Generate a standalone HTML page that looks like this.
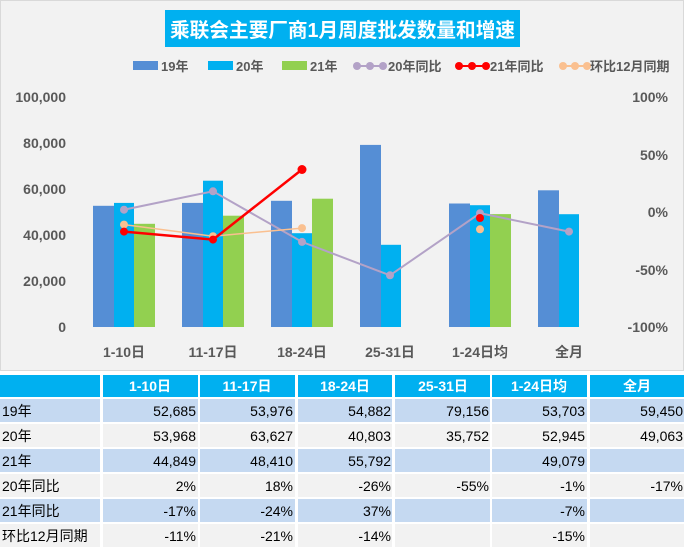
<!DOCTYPE html>
<html><head><meta charset="utf-8"><style>
body{margin:0;width:684px;height:549px;overflow:hidden;background:#fff}
svg{display:block}
text{font-family:"Liberation Sans","Noto Sans CJK SC",sans-serif}
</style></head><body>
<svg width="684" height="549" viewBox="0 0 684 549">
<rect x="0.5" y="0.5" width="683" height="370" fill="#f2f2f2" stroke="#d9d9d9"/>
<rect x="165" y="10" width="355" height="37" fill="#00b0f0"/>
<text x="170" y="37" textLength="345" lengthAdjust="spacingAndGlyphs" font-size="20" font-weight="bold" fill="#fff">乘联会主要厂商1月周度批发数量和增速</text>
<!-- legend -->
<g font-size="13" font-weight="bold" fill="#595959">
<rect x="133" y="61" width="25" height="9" fill="#558ed5"/><text x="161" y="71">19年</text>
<rect x="208" y="61" width="25" height="9" fill="#00b0f0"/><text x="236" y="71">20年</text>
<rect x="282" y="61" width="25" height="9" fill="#92d050"/><text x="310" y="71">21年</text>
<line x1="355" y1="66" x2="384" y2="66" stroke="#b3a2c7" stroke-width="2"/><circle cx="357" cy="66" r="4" fill="#b3a2c7"/><circle cx="370" cy="66" r="4" fill="#b3a2c7"/><circle cx="383" cy="66" r="4" fill="#b3a2c7"/><text x="388" y="71">20年同比</text>
<line x1="457" y1="66" x2="487" y2="66" stroke="#ff0000" stroke-width="2"/><circle cx="459" cy="66" r="4" fill="#ff0000"/><circle cx="472" cy="66" r="4" fill="#ff0000"/><circle cx="486" cy="66" r="4" fill="#ff0000"/><text x="490" y="71">21年同比</text>
<line x1="561" y1="66" x2="588" y2="66" stroke="#fac090" stroke-width="2"/><circle cx="563" cy="66" r="4" fill="#fac090"/><circle cx="575" cy="66" r="4" fill="#fac090"/><circle cx="587" cy="66" r="4" fill="#fac090"/><text x="590" y="71">环比12月同期</text>
</g>
<!-- axes labels -->
<g font-size="14" font-weight="bold" fill="#595959">
<text x="66" y="102" text-anchor="end">100,000</text>
<text x="66" y="148" text-anchor="end">80,000</text>
<text x="66" y="194" text-anchor="end">60,000</text>
<text x="66" y="240" text-anchor="end">40,000</text>
<text x="66" y="286" text-anchor="end">20,000</text>
<text x="66" y="332" text-anchor="end">0</text>
<text x="668" y="102" text-anchor="end">100%</text>
<text x="668" y="160" text-anchor="end">50%</text>
<text x="668" y="217" text-anchor="end">0%</text>
<text x="668" y="275" text-anchor="end">-50%</text>
<text x="668" y="332" text-anchor="end">-100%</text>
</g>
<g font-size="14" font-weight="bold" fill="#595959" text-anchor="middle">
<text x="124" y="357">1-10日</text><text x="213" y="357">11-17日</text><text x="302" y="357">18-24日</text><text x="390" y="357">25-31日</text><text x="480" y="357">1-24日均</text><text x="569" y="357">全月</text>
</g>
<g>
<rect x="93" y="205.8" width="21" height="121.2" fill="#558ed5"/>
<rect x="114" y="202.9" width="20" height="124.1" fill="#00b0f0"/>
<rect x="134" y="223.8" width="21" height="103.2" fill="#92d050"/>
<rect x="182" y="202.9" width="21" height="124.1" fill="#558ed5"/>
<rect x="203" y="180.7" width="20" height="146.3" fill="#00b0f0"/>
<rect x="223" y="215.7" width="21" height="111.3" fill="#92d050"/>
<rect x="271" y="200.8" width="21" height="126.2" fill="#558ed5"/>
<rect x="292" y="233.2" width="20" height="93.8" fill="#00b0f0"/>
<rect x="312" y="198.7" width="21" height="128.3" fill="#92d050"/>
<rect x="360" y="144.9" width="21" height="182.1" fill="#558ed5"/>
<rect x="381" y="244.8" width="20" height="82.2" fill="#00b0f0"/>
<rect x="449" y="203.5" width="21" height="123.5" fill="#558ed5"/>
<rect x="470" y="205.2" width="20" height="121.8" fill="#00b0f0"/>
<rect x="490" y="214.1" width="21" height="112.9" fill="#92d050"/>
<rect x="538" y="190.3" width="21" height="136.7" fill="#558ed5"/>
<rect x="559" y="214.2" width="20" height="112.8" fill="#00b0f0"/>
</g>
<polyline points="124,209.7 213,191.3 302,241.9 390,275.3 480,213.2 569,231.6" fill="none" stroke="#b3a2c7" stroke-width="2"/>
<g fill="#b3a2c7"><circle cx="124" cy="209.7" r="4"/><circle cx="213" cy="191.3" r="4"/><circle cx="302" cy="241.9" r="4"/><circle cx="390" cy="275.3" r="4"/><circle cx="480" cy="213.2" r="4"/><circle cx="569" cy="231.6" r="4"/></g>
<polyline points="124,224.6 213,236.2 302,228.1" fill="none" stroke="#fac090" stroke-width="1.5"/>
<g fill="#fac090"><circle cx="124" cy="224.6" r="4"/><circle cx="213" cy="236.2" r="4"/><circle cx="302" cy="228.1" r="4"/><circle cx="480" cy="229.3" r="4"/></g>
<polyline points="124,231.6 213,239.6 302,169.5" fill="none" stroke="#ff0000" stroke-width="2.5"/>
<g fill="#ff0000"><circle cx="124" cy="231.6" r="4"/><circle cx="213" cy="239.6" r="4"/><circle cx="302" cy="169.5" r="4.5"/><circle cx="480" cy="218" r="4"/></g>
<g>
<rect x="0" y="375" width="100" height="22" fill="#00b0f0"/>
<rect x="103" y="375" width="95" height="22" fill="#00b0f0"/>
<rect x="200" y="375" width="95" height="22" fill="#00b0f0"/>
<rect x="298" y="375" width="94" height="22" fill="#00b0f0"/>
<rect x="395" y="375" width="95" height="22" fill="#00b0f0"/>
<rect x="492" y="375" width="95" height="22" fill="#00b0f0"/>
<rect x="590" y="375" width="94" height="22" fill="#00b0f0"/>
</g>
<g font-size="14" font-weight="bold" fill="#fff" text-anchor="middle">
<text x="150" y="391">1-10日</text><text x="247" y="391">11-17日</text><text x="345" y="391">18-24日</text><text x="443" y="391">25-31日</text><text x="539" y="391">1-24日均</text><text x="637" y="391">全月</text>
</g>
<g fill="#c5d9f1">
<rect x="0" y="399" width="100" height="23"/><rect x="103" y="399" width="95" height="23"/><rect x="200" y="399" width="95" height="23"/><rect x="298" y="399" width="94" height="23"/><rect x="395" y="399" width="95" height="23"/><rect x="492" y="399" width="95" height="23"/><rect x="590" y="399" width="94" height="23"/>
<rect x="0" y="449" width="100" height="23"/><rect x="103" y="449" width="95" height="23"/><rect x="200" y="449" width="95" height="23"/><rect x="298" y="449" width="94" height="23"/><rect x="395" y="449" width="95" height="23"/><rect x="492" y="449" width="95" height="23"/><rect x="590" y="449" width="94" height="23"/>
<rect x="0" y="499" width="100" height="23"/><rect x="103" y="499" width="95" height="23"/><rect x="200" y="499" width="95" height="23"/><rect x="298" y="499" width="94" height="23"/><rect x="395" y="499" width="95" height="23"/><rect x="492" y="499" width="95" height="23"/><rect x="590" y="499" width="94" height="23"/>
</g>
<g fill="#f2f2f2">
<rect x="0" y="424" width="100" height="23"/><rect x="103" y="424" width="95" height="23"/><rect x="200" y="424" width="95" height="23"/><rect x="298" y="424" width="94" height="23"/><rect x="395" y="424" width="95" height="23"/><rect x="492" y="424" width="95" height="23"/><rect x="590" y="424" width="94" height="23"/>
<rect x="0" y="474" width="100" height="23"/><rect x="103" y="474" width="95" height="23"/><rect x="200" y="474" width="95" height="23"/><rect x="298" y="474" width="94" height="23"/><rect x="395" y="474" width="95" height="23"/><rect x="492" y="474" width="95" height="23"/><rect x="590" y="474" width="94" height="23"/>
<rect x="0" y="524" width="100" height="23"/><rect x="103" y="524" width="95" height="23"/><rect x="200" y="524" width="95" height="23"/><rect x="298" y="524" width="94" height="23"/><rect x="395" y="524" width="95" height="23"/><rect x="492" y="524" width="95" height="23"/><rect x="590" y="524" width="94" height="23"/>
</g>
<g font-size="14" fill="#000">
<text x="2" y="416">19年</text><text x="2" y="441">20年</text><text x="2" y="466">21年</text><text x="2" y="491">20年同比</text><text x="2" y="516">21年同比</text><text x="2" y="541">环比12月同期</text>
</g>
<g font-size="14" fill="#000" text-anchor="end">
<text x="196" y="416">52,685</text><text x="293" y="416">53,976</text><text x="391" y="416">54,882</text><text x="489" y="416">79,156</text><text x="585" y="416">53,703</text><text x="683" y="416">59,450</text>
<text x="196" y="441">53,968</text><text x="293" y="441">63,627</text><text x="391" y="441">40,803</text><text x="489" y="441">35,752</text><text x="585" y="441">52,945</text><text x="683" y="441">49,063</text>
<text x="196" y="466">44,849</text><text x="293" y="466">48,410</text><text x="391" y="466">55,792</text><text x="585" y="466">49,079</text>
<text x="196" y="491">2%</text><text x="293" y="491">18%</text><text x="391" y="491">-26%</text><text x="489" y="491">-55%</text><text x="585" y="491">-1%</text><text x="683" y="491">-17%</text>
<text x="196" y="516">-17%</text><text x="293" y="516">-24%</text><text x="391" y="516">37%</text><text x="585" y="516">-7%</text>
<text x="196" y="541">-11%</text><text x="293" y="541">-21%</text><text x="391" y="541">-14%</text><text x="585" y="541">-15%</text>
</g>
</svg>
</body></html>
